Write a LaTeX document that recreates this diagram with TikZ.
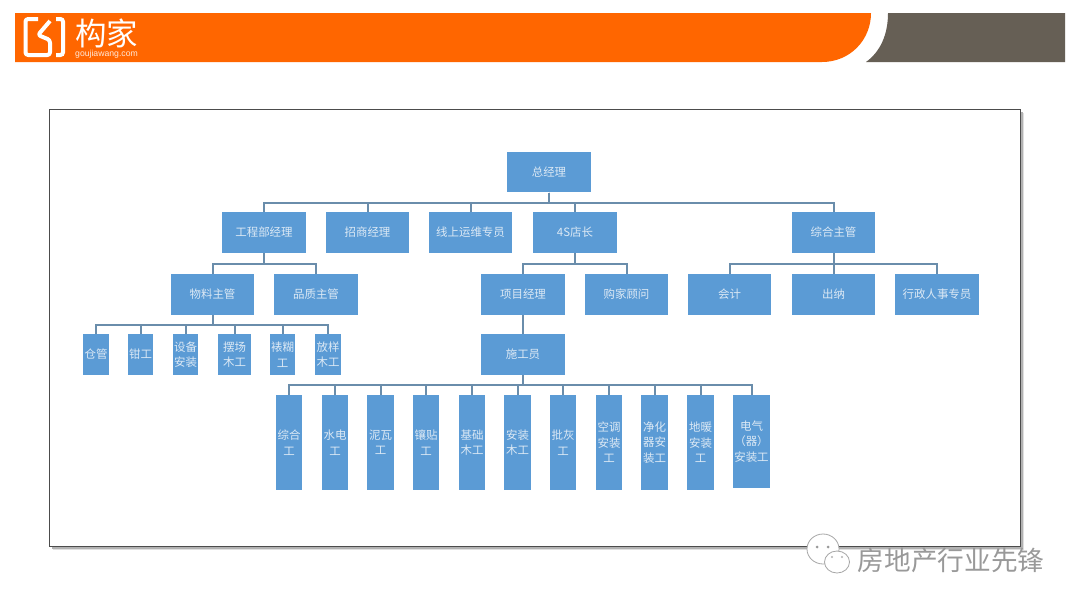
\documentclass[tikz,border=0pt]{standalone}
\usepackage{fontspec}
\setmainfont{Noto Sans CJK SC}
\newfontfamily\latinfont{Liberation Sans}
\definecolor{barorange}{HTML}{FF6600}
\definecolor{bargrey}{HTML}{665F55}
\definecolor{boxblue}{HTML}{5B9BD5}
\definecolor{linkblue}{HTML}{6A8DAB}
\definecolor{boxtext}{HTML}{DCE9F5}
\tikzset{
  box/.style={fill=boxblue, inner sep=0pt, text=boxtext, align=center, font=\fontsize{8.6pt}{11.6pt}\selectfont},
  bigbox/.style={box, minimum width=62.5pt, minimum height=30.5pt},
  tinybox/.style={box, minimum width=18.8pt, minimum height=30.5pt},
  tallbox/.style={box, minimum width=19.8pt, minimum height=71.5pt},
  link/.style={draw=linkblue, line width=1.5pt},
}
\begin{document}
\begin{tikzpicture}[x=0.75pt, y=-0.75pt]
\useasboundingbox (0,0) rectangle (1080,607);
\fill[white] (0,0) rectangle (1080,607);
% header bar
\fill[barorange] (15,13) -- (871,13) .. controls (871,40) and (850,62) .. (822,62) -- (15,62) -- cycle;
\fill[bargrey] (888,13) -- (1065,13) -- (1065,62) -- (866,62) .. controls (880,52) and (888,35) .. (888,13) -- cycle;
\draw[white, line width=3pt, line join=round, rounded corners=2pt] (38,19) -- (25.5,19) -- (25.5,55) -- (50,55) -- (50,40) -- (38,35) -- (50,21);
\draw[white, line width=3pt, rounded corners=2pt] (56,19) -- (63,19) -- (63,55) -- (56,55);
\node[text=white, font=\fontsize{23.6pt}{24pt}\selectfont, inner sep=0pt] (logoname) at (106.5,33) {构家};
\node[text=white!85!barorange, font=\latinfont\fontsize{6.5pt}{7pt}\selectfont, inner sep=0pt] (logourl) at (106.5,54.5) {goujiawang.com};
% frame
\fill[black!12] (53,113) rectangle (1024,550);
\fill[black!30] (52,112) rectangle (1022.5,548.5);
\draw[draw=black!70, line width=0.7pt, fill=white] (49,109) rectangle (1020,546);
% level 1 and 2
\node[bigbox] (manager) at (549,172) {总经理};
\node[bigbox] (project) at (264,232.5) {工程部经理};
\node[bigbox] (invest) at (367.5,232.5) {招商经理};
\node[bigbox] (online) at (470.5,232.5) {线上运维专员};
\node[bigbox] (store) at (575,232.5) {4S店长};
\node[bigbox] (admin) at (833.5,232.5) {综合主管};
% level 3
\node[bigbox] (material) at (212.5,294.5) {物料主管};
\node[bigbox] (quality) at (316,294.5) {品质主管};
\node[bigbox] (pm) at (523,294.5) {项目经理};
\node[bigbox] (advisor) at (626.5,294.5) {购家顾问};
\node[bigbox] (account) at (729.5,294.5) {会计};
\node[bigbox] (cashier) at (833.5,294.5) {出纳};
\node[bigbox] (hr) at (937,294.5) {行政人事专员};
% level 4
\node[tinybox] (store1) at (96,354.5) {仓管};
\node[tinybox] (fitter) at (140.5,354.5) {钳工};
\node[tinybox] (equip) at (185.5,354.5) {设备\\安装};
\node[box, minimum width=25pt, minimum height=30.5pt] (stage) at (234.5,354.5) {摆场\\木工};
\node[tinybox] (mount) at (282.5,354.5) {裱糊\\工};
\node[tinybox] (layout) at (328,354.5) {放样\\木工};
\node[bigbox] (builder) at (523,354.5) {施工员};
% level 5
\node[tallbox] (w1) at (289,442.5) {综合\\工};
\node[tallbox] (w2) at (335,442.5) {水电\\工};
\node[tallbox] (w3) at (380.5,442.5) {泥瓦\\工};
\node[tallbox] (w4) at (426,442.5) {镶贴\\工};
\node[tallbox] (w5) at (472,442.5) {基础\\木工};
\node[tallbox] (w6) at (517.5,442.5) {安装\\木工};
\node[tallbox] (w7) at (563,442.5) {批灰\\工};
\node[tallbox] (w8) at (609,442.5) {空调\\安装\\工};
\node[tallbox] (w9) at (654.5,442.5) {净化\\器安\\装工};
\node[tallbox] (w10) at (700.5,442.5) {地暖\\安装\\工};
\node[box, minimum width=27.5pt, minimum height=70pt] (w11) at (751.5,441.5) {电气\\（器）\\安装工};
% connectors
\draw[link] (manager.south) -- ++(0,10) -| (project.north);
\draw[link] (manager.south) -- ++(0,10) -| (invest.north);
\draw[link] (manager.south) -- ++(0,10) -| (online.north);
\draw[link] (manager.south) -- ++(0,10) -| (store.north);
\draw[link] (manager.south) -- ++(0,10) -| (admin.north);
\draw[link] (project.south) -- ++(0,10.5) -| (material.north);
\draw[link] (project.south) -- ++(0,10.5) -| (quality.north);
\draw[link] (store.south) -- ++(0,10.5) -| (pm.north);
\draw[link] (store.south) -- ++(0,10.5) -| (advisor.north);
\draw[link] (admin.south) -- ++(0,10.5) -| (account.north);
\draw[link] (admin.south) -- (cashier.north);
\draw[link] (admin.south) -- ++(0,10.5) -| (hr.north);
\draw[link] (material.south) -- ++(0,10) -| (store1.north);
\draw[link] (material.south) -- ++(0,10) -| (fitter.north);
\draw[link] (material.south) -- ++(0,10) -| (equip.north);
\draw[link] (material.south) -- ++(0,10) -| (stage.north);
\draw[link] (material.south) -- ++(0,10) -| (mount.north);
\draw[link] (material.south) -- ++(0,10) -| (layout.north);
\draw[link] (pm.south) -- (builder.north);
\foreach \w in {w1,w2,w3,w4,w5,w6,w7,w8,w9,w10,w11}
  \draw[link] (builder.south) -- ++(0,10) -| (\w.north);
% watermark
\draw[gray!70, fill=white, line width=0.6pt] (823,549) ellipse [x radius=16, y radius=15];
\fill[gray!80] (817,547) circle (1.5) (828,547) circle (1.5);
\draw[gray!70, fill=white, line width=0.6pt] (837,562) ellipse [x radius=12.5, y radius=11];
\fill[gray!60] (832,557) circle (1.1) (842,557) circle (1.1);
\node[text=gray!80, font=\fontsize{20pt}{22pt}\selectfont, inner sep=0pt] (mark) at (951,560) {房地产行业先锋};
\end{tikzpicture}
\end{document}
